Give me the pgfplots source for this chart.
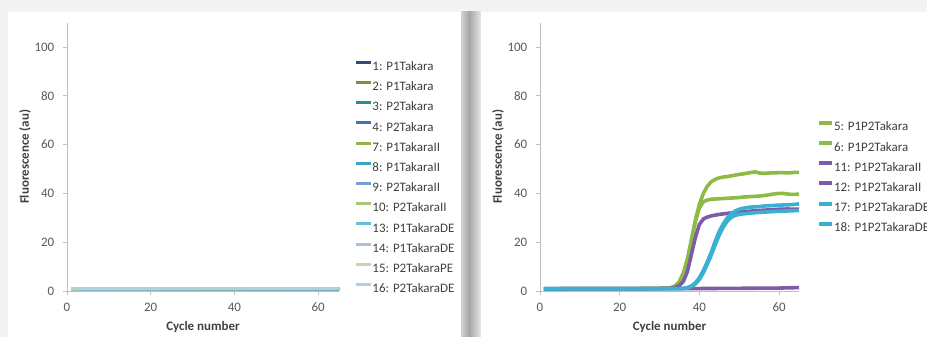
\documentclass[border=0pt]{standalone}
\usepackage{pgfplots}
\pgfplotsset{compat=1.18}
\usepackage{fontspec}
\setmainfont{Carlito}
\definecolor{bg}{HTML}{F3F3F3}
\definecolor{tickc}{HTML}{595959}
\definecolor{axc}{HTML}{BFBFBF}
\definecolor{labc}{HTML}{404040}
\definecolor{c1}{HTML}{2C4D75}
\definecolor{c2}{HTML}{77933C}
\definecolor{c3}{HTML}{31859C}
\definecolor{c4}{HTML}{4470B8}
\definecolor{c7}{HTML}{8EB44A}
\definecolor{c8}{HTML}{3BA6C4}
\definecolor{c9}{HTML}{7B9BD3}
\definecolor{c10}{HTML}{A4C872}
\definecolor{c13}{HTML}{6DBAD8}
\definecolor{c14}{HTML}{AEBEDD}
\definecolor{c15}{HTML}{C3D9A8}
\definecolor{c16}{HTML}{A8D3DF}
\definecolor{cg}{HTML}{8DBB45}
\definecolor{cp}{HTML}{7E5BA6}
\definecolor{cc}{HTML}{3AB0D2}
\definecolor{sh1}{HTML}{D2D2D2}
\definecolor{sh2}{HTML}{A6A6A6}
\definecolor{sh3}{HTML}{E6E6E6}
\pgfplotsset{
  panel/.style={
    scale only axis,
    anchor=south west,
    height=268.4bp,
    xmin=0, xmax=65, ymin=0, ymax=110,
    axis x line*=bottom, axis y line*=left,
    axis line style={axc, line width=0.8bp},
    xtick={0,20,40,60}, ytick={0,20,40,60,80,100},
    tick align=outside, major tick length=4bp,
    tick style={axc, line width=0.8bp},
    /pgf/number format/assume math mode=true,
    ticklabel style={font=\fontsize{13}{15}\selectfont, text=tickc},
    yticklabel style={inner sep=0pt, xshift=-8.5bp},
    xticklabel style={inner sep=0pt, yshift=-7.5bp},
    xlabel={Cycle number}, ylabel={Fluorescence (au)},
    label style={font=\bfseries\fontsize{13}{15}\selectfont, text=labc},
    xlabel style={at={(axis description cs:0.5,0)}, anchor=center, yshift=-36bp},
    legend cell align=left,
    legend style={draw=none, fill=none, inner sep=0pt, outer sep=0pt,
      anchor=north west, row sep=4.2bp,
      font=\fontsize{13}{15}\selectfont, text=labc,
      nodes={inner sep=0pt, text height=12bp, text depth=4bp},
      /tikz/every even column/.append style={column sep=0pt}},
    legend image code/.code={\draw[#1, line width=3bp] (0bp,4.2bp) -- (14.5bp,4.2bp);},
  }
}
\begin{document}
\begin{tikzpicture}
\useasboundingbox (0bp,0bp) rectangle (927bp,337bp);
\clip (0bp,0bp) rectangle (927bp,337bp);
\fill[bg] (0bp,0bp) rectangle (927bp,337bp);
\fill[white] (8bp,0bp) rectangle (461bp,325bp);
\shade[left color=sh1, right color=sh2] (461bp,0bp) rectangle (469bp,325bp);
\shade[left color=sh2, right color=sh3] (469bp,0bp) rectangle (481bp,325bp);
\fill[white] (481bp,0bp) rectangle (927bp,325bp);

\begin{axis}[panel, at={(67bp,46bp)}, width=272bp,
  ylabel style={at={(axis description cs:-0.1544,0.5)}, anchor=center},
  legend style={at={(axis description cs:1.0588,0.866)}},
  every axis plot/.append style={line width=3bp, line join=round}]
\addplot[c1] coordinates {(1,0.8)(10,0.8)(20,0.9)(30,0.9)(40,0.9)(50,0.9)(60,0.9)(65,0.9)};
\addlegendentry{1: P1Takara}
\addplot[c2] coordinates {(1,0.8)(10,0.8)(20,0.8)(30,0.9)(40,0.9)(50,0.9)(60,0.9)(65,0.9)};
\addlegendentry{2: P1Takara}
\addplot[c3] coordinates {(1,0.7)(10,0.8)(20,0.8)(30,0.8)(40,0.8)(50,0.9)(60,0.9)(65,0.9)};
\addlegendentry{3: P2Takara}
\addplot[c4] coordinates {(1,0.8)(10,0.8)(20,0.8)(30,0.8)(40,0.9)(50,0.9)(60,0.9)(65,0.9)};
\addlegendentry{4: P2Takara}
\addplot[c7] coordinates {(1,0.8)(10,0.9)(20,0.9)(30,0.9)(40,0.9)(50,0.9)(60,1.0)(65,1.0)};
\addlegendentry{7: P1TakaraII}
\addplot[c8] coordinates {(1,0.8)(10,0.8)(20,0.9)(30,0.9)(40,0.9)(50,0.9)(60,0.9)(65,1.0)};
\addlegendentry{8: P1TakaraII}
\addplot[c9] coordinates {(1,0.8)(10,0.8)(20,0.8)(30,0.9)(40,0.9)(50,0.9)(60,0.9)(65,0.9)};
\addlegendentry{9: P2TakaraII}
\addplot[c10] coordinates {(1,0.8)(10,0.9)(20,0.9)(30,0.9)(40,0.9)(50,1.0)(60,1.0)(65,1.0)};
\addlegendentry{10: P2TakaraII}
\addplot[c13] coordinates {(1,0.9)(10,0.9)(20,0.9)(30,0.9)(40,1.0)(50,1.0)(60,1.0)(65,1.0)};
\addlegendentry{13: P1TakaraDE}
\addplot[c14] coordinates {(1,0.9)(10,0.9)(20,0.9)(30,1.0)(40,1.0)(50,1.0)(60,1.0)(65,1.0)};
\addlegendentry{14: P1TakaraDE}
\addplot[c15] coordinates {(1,0.9)(10,1.0)(20,1.0)(30,1.0)(40,1.0)(50,1.0)(60,1.0)(65,1.0)};
\addlegendentry{15: P2TakaraPE}
\addplot[c16] coordinates {(1,1.0)(10,1.0)(20,1.0)(30,1.0)(40,1.0)(50,1.0)(60,1.0)(65,1.0)};
\addlegendentry{16: P2TakaraDE}
\end{axis}

\begin{axis}[panel, at={(540bp,46bp)}, width=259bp,
  ylabel style={at={(axis description cs:-0.1622,0.5)}, anchor=center},
  legend style={at={(axis description cs:1.0695,0.641)}},
  legend image code/.code={\draw[#1, line width=4bp] (0bp,4.2bp) -- (13bp,4.2bp);},
  every axis plot/.append style={line width=3.6bp, line join=round}]
\addplot[cg] coordinates {(1,0.9)(5,0.9)(10,1.0)(15,1.0)(20,1.0)(25,1.0)(30,1.1)(32,1.2)(33,1.4)(34,2.2)(35,3.8)(36,7.5)(37,13)(38,21)(39,29)(40,35.5)(41,40)(42,43)(43,44.8)(44,45.8)(45,46.4)(46,46.7)(47,46.9)(48,47.2)(49,47.5)(50,47.8)(51,48.0)(52,48.3)(53,48.6)(54,48.8)(55,48.4)(56,48.2)(57,48.3)(58,48.4)(59,48.4)(60,48.5)(61,48.5)(62,48.4)(63,48.5)(64,48.6)(65,48.6)};
\addlegendentry{5: P1P2Takara}
\addplot[cg] coordinates {(1,0.9)(5,0.9)(10,1.0)(15,1.0)(20,1.0)(25,1.0)(30,1.1)(32,1.2)(33,1.4)(34,2.1)(35,3.7)(36,7.3)(37,12.8)(38,20.6)(39,28.5)(40,34)(41,36.6)(42,37.3)(43,37.6)(44,37.7)(45,37.8)(46,37.9)(47,38.0)(48,38.1)(49,38.2)(50,38.3)(51,38.5)(52,38.6)(53,38.7)(54,38.8)(55,38.9)(56,39.1)(57,39.3)(58,39.6)(59,39.8)(60,40.0)(61,40.0)(62,39.8)(63,39.6)(64,39.6)(65,39.7)};
\addlegendentry{6: P1P2Takara}
\addplot[cp] coordinates {(1,0.9)(5,0.9)(10,1.0)(15,1.0)(20,1.0)(25,1.0)(30,1.0)(33,1.1)(34,1.4)(35,2.3)(36,4)(37,8)(38,15)(39,22)(40,27.3)(41,29.5)(42,30.3)(43,30.8)(44,31.1)(45,31.4)(46,31.6)(47,31.8)(48,32.0)(50,32.3)(52,32.6)(54,32.9)(56,33.1)(58,33.3)(60,33.5)(62,33.6)(65,33.5)};
\addlegendentry{11: P1P2TakaraII}
\addplot[cp] coordinates {(1,0.9)(10,1.0)(20,1.0)(30,1.0)(40,1.0)(50,1.1)(60,1.2)(65,1.4)};
\addlegendentry{12: P1P2TakaraII}
\addplot[cc] coordinates {(1,0.9)(10,1.0)(20,1.0)(30,1.0)(35,1.0)(36,1.1)(37,1.4)(38,2.1)(39,3.4)(40,5.4)(41,8.4)(42,12)(43,16)(44,20.5)(45,24.5)(46,27.5)(47,30)(48,31.7)(49,32.8)(50,33.5)(51,33.9)(52,34.2)(53,34.4)(54,34.5)(55,34.6)(56,34.8)(58,35.0)(60,35.2)(62,35.3)(64,35.5)(65,35.7)};
\addlegendentry{17: P1P2TakaraDE}
\addplot[cc] coordinates {(1,0.9)(10,1.0)(20,1.0)(30,1.0)(36,1.0)(37,1.3)(38,1.8)(39,2.9)(40,4.7)(41,7.5)(42,11)(43,14.8)(44,19)(45,23)(46,26.2)(47,28.6)(48,30.2)(49,31.0)(50,31.4)(51,31.6)(52,31.8)(54,32.1)(56,32.3)(58,32.5)(60,32.7)(62,32.8)(65,33.0)};
\addlegendentry{18: P1P2TakaraDE}
\end{axis}
\end{tikzpicture}
\end{document}
